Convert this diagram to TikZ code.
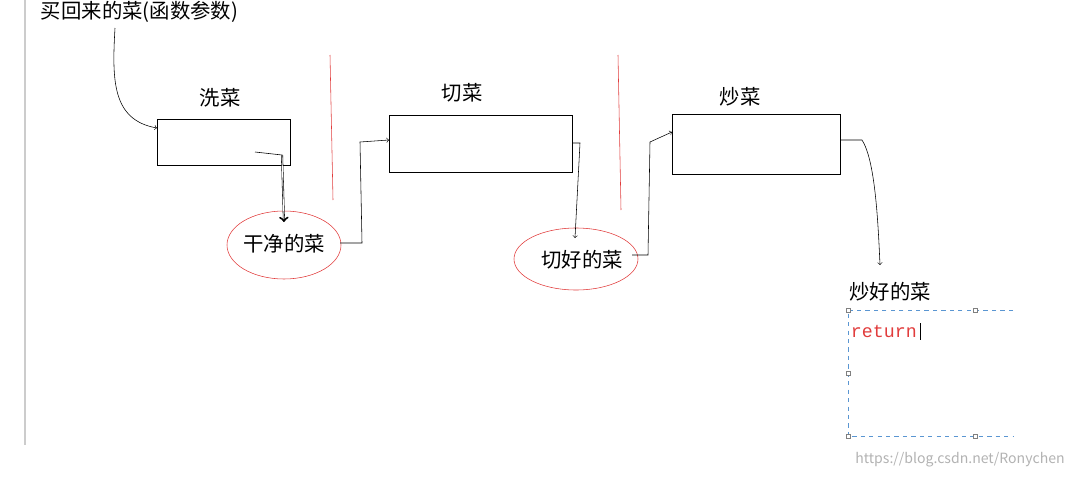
\documentclass[tikz,border=0pt]{standalone}
\usepackage{fontspec}
\setmainfont{Noto Sans CJK SC}
\setmonofont{Liberation Mono}
\usetikzlibrary{positioning,arrows,calc}
\definecolor{selblue}{RGB}{90,150,210}
\definecolor{penred}{RGB}{225,60,60}

\begin{document}
\begin{tikzpicture}[x=0.025cm, y=-0.025cm, >=to, font=\fontsize{14.5pt}{16pt}\selectfont]
        \useasboundingbox (0,0) rectangle (1080,480);
        % Styles
        \tikzset{stepbox/.style={draw, rectangle, thin, anchor=north west},
                 flow/.style={->, thin}}
        \draw[gray!40, line width=1pt] (25,0) -- (25,445);
        % Nodes
        \node[anchor=west] (input) at (36,12) {买回来的菜(函数参数)};
        \node[stepbox, minimum width=3.33cm, minimum height=1.15cm] (wash) at (157,119) {};
        \node[stepbox, minimum width=4.58cm, minimum height=1.43cm] (cut) at (389,115) {};
        \node[stepbox, minimum width=4.2cm, minimum height=1.5cm] (cook) at (672,114) {};
        \node (washlbl) at (220,98) {洗菜};
        \node (cutlbl) at (462,93) {切菜};
        \node (cooklbl) at (740,97) {炒菜};
        \node (clean) at (284,244) {干净的菜};
        \node (sliced) at (582,260) {切好的菜};
        \node (done) at (890,292) {炒好的菜};
        \draw[penred] (284,245) ellipse [x radius=57, y radius=34];
        \draw[penred] (576,259) ellipse [x radius=62, y radius=31];
        % Red dividers
        \draw[penred, thin] (330,55) -- (333,200);
        \draw[penred, thin] (618,55) -- (621,210);
        % Arrows
        \draw[flow] (115,28) .. controls (112,80) and (112,120) .. (wash.west |- 0,128);
        \draw[thin] (255,152) -- (282,155);
        \draw[flow, double] (282,155) -- (284,222);
        \draw[flow] (340,243) -- (362,243) -- (360,142) -- (cut.west |- 0,140);
        \draw[flow] (572,143) -- (580,143) -- (575,238);
        \draw[flow] (632,255) -- (648,255) -- (650,142) -- (cook.west |- 0,132);
        \draw[flow] (840,140) -- (862,140) .. controls (875,160) and (878,220) .. (880,265);
        % Selection box
        \coordinate (selA) at (1013,310);
        \coordinate (selB) at (1013,436);
        \draw[selblue, dashed, thin] (selA) -- (848,310) -- (848,436) -- (selB);
        \foreach \hx/\hy in {848/310,975/310,848/373,848/436,975/436}
            \draw[gray, fill=white] (\hx-2,\hy-2) rectangle (\hx+2,\hy+2);
        \node[anchor=west, text=penred, font=\ttfamily\fontsize{13pt}{15pt}\selectfont] (ret) at (846,331) {return};
        \draw (ret.east) ++(-1,-8) -- ++(0,17);
        \node[text=gray!60, font=\fontsize{10pt}{12pt}\selectfont] (mark) at (960,460) {https://blog.csdn.net/Ronychen};
\end{tikzpicture}
\end{document}
